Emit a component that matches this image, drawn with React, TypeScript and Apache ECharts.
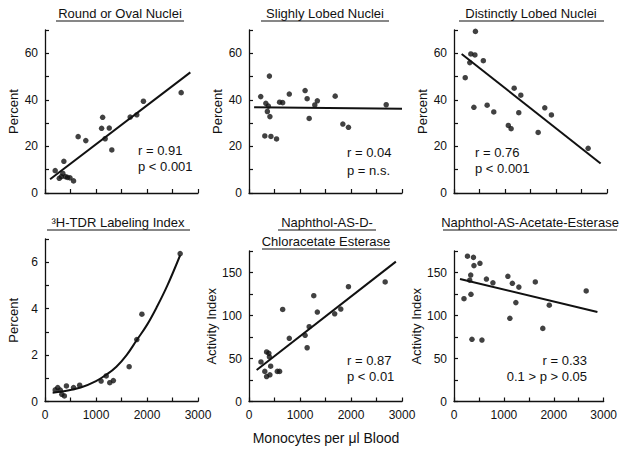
import React, { useEffect, useRef } from "react";
import * as echarts from "echarts";

// ---------- data ----------
const xTickValues = [0, 500, 1000, 1500, 2000, 2500, 3000];
const xLabelValues = [0, 1000, 2000, 3000];

const roundX = [200, 280, 320, 350, 370, 400, 440, 490, 560, 650, 800, 1110, 1130, 1180, 1260, 1310, 1670, 1800, 1930, 2670];
const roundY = [9.6, 6.3, 7.0, 8.4, 13.6, 7.0, 6.7, 6.5, 5.2, 24.2, 22.5, 27.8, 32.5, 23.3, 27.9, 18.5, 32.6, 33.6, 39.4, 43.1];
const roundFitX = [100, 2850];
const roundFitY = [5.9, 51.8];

const slightX = [230, 310, 330, 360, 380, 400, 410, 430, 540, 600, 660, 790, 1100, 1140, 1180, 1290, 1340, 1690, 1840, 1950, 2690];
const slightY = [41.4, 24.5, 38.5, 35, 37.3, 50.2, 32.8, 24.3, 23.2, 39, 38.8, 42.5, 44, 40.5, 32, 37.8, 39.6, 41.6, 29.6, 28.2, 37.9];
const slightFitX = [100, 3000];
const slightFitY = [36.8, 36.2];

const distX = [220, 310, 330, 390, 410, 420, 530, 575, 650, 780, 1065, 1120, 1180, 1270, 1310, 1650, 1780, 1910, 2630];
const distY = [49.5, 56, 59.7, 36.8, 59.3, 69.4, 71.4, 56.8, 37.7, 34.8, 29, 27.6, 45, 34.5, 42, 26, 36.6, 33.5, 19.2];
const distFitX = [150, 2875];
const distFitY = [59.7, 12.7];

const labelX = [200, 250, 300, 330, 380, 420, 560, 680, 1100, 1200, 1270, 1340, 1650, 1800, 1900, 2650];
const labelY = [0.5, 0.6, 0.49, 0.31, 0.24, 0.67, 0.6, 0.7, 0.88, 1.1, 0.81, 0.9, 1.5, 2.67, 3.76, 6.37];
const labelFitX = [150, 400, 700, 1000, 1200, 1400, 1600, 1800, 2000, 2200, 2400, 2650];
const labelFitY = [0.38, 0.45, 0.6, 0.88, 1.15, 1.5, 2.0, 2.65, 3.3, 4.1, 5.0, 6.3];

const chlorX = [235, 310, 345, 345, 390, 400, 410, 425, 555, 600, 660, 790, 1100, 1140, 1180, 1270, 1340, 1680, 1800, 1950, 2670];
const chlorY = [46, 35, 29, 57.6, 56, 52, 31, 41, 35, 35, 107, 73.5, 77, 62.5, 87, 123, 104, 102, 107.5, 133.5, 139];
const chlorFitX = [150, 2880];
const chlorFitY = [36.6, 162.6];

const acetX = [200, 270, 315, 335, 340, 360, 390, 400, 520, 560, 650, 780, 1080, 1120, 1170, 1240, 1300, 1630, 1780, 1910, 2650];
const acetY = [119.5, 169, 141, 147, 124.7, 72.3, 167.6, 158, 160.7, 71.5, 142.4, 138, 145.6, 96.7, 137.4, 115, 133, 139, 85, 112, 128.5];
const acetFitX = [120, 2875];
const acetFitY = [142.5, 104];

const titles = [
  "Round or Oval Nuclei",
  "Slighly Lobed Nuclei",
  "Distinctly Lobed Nuclei",
  "\u00B3H-TDR Labeling Index",
  "Naphthol-AS-D-",
  "Chloracetate Esterase",
  "Naphthol-AS-Acetate-Esterase",
];
const statsText = [
  ["r = 0.91", "p < 0.001"],
  ["r = 0.04", "p = n.s."],
  ["r = 0.76", "p < 0.001"],
  ["r = 0.87", "p < 0.01"],
  ["r = 0.33", "0.1 > p > 0.05"],
];
const xAxisTitle = "Monocytes per \u03BCl Blood";

// ---------- layout ----------
const FONT = "'Liberation Sans', Arial, sans-serif";
const INK = "#111";

const grids = [
  { left: 45, top: 30, width: 153, height: 163 },
  { left: 249, top: 30, width: 153, height: 163 },
  { left: 454, top: 30, width: 153, height: 163 },
  { left: 45, top: 239, width: 153, height: 162.5 },
  { left: 249, top: 251, width: 153, height: 150.5 },
  { left: 454, top: 251, width: 153, height: 150.5 },
];

const yConf = [
  { max: 70, interval: 10, labelEvery: 20, name: "Percent" },
  { max: 70, interval: 10, labelEvery: 20, name: "Percent" },
  { max: 70, interval: 10, labelEvery: 20, name: "Percent" },
  { max: 7, interval: 1, labelEvery: 2, name: "Percent" },
  { max: 175, interval: 25, labelEvery: 50, name: "Activity Index" },
  { max: 175, interval: 25, labelEvery: 50, name: "Activity Index" },
];

function zip(xs: number[], ys: number[]) {
  return xs.map((x, i) => [x, ys[i]]);
}

function buildOption() {
  const axisLine = { show: true, onZero: false, lineStyle: { color: INK, width: 1.3 } };
  const axisTick = { show: true, inside: true, length: 4, lineStyle: { color: INK, width: 1.2 } };

  const xAxis = grids.map((_, i) => ({
    type: "value",
    gridIndex: i,
    min: xTickValues[0],
    max: xTickValues[xTickValues.length - 1],
    interval: xTickValues[1] - xTickValues[0],
    axisLine,
    axisTick,
    splitLine: { show: false },
    axisLabel: {
      show: i >= 3,
      color: INK,
      fontFamily: FONT,
      fontSize: 12,
      margin: 7,
      formatter: (v: number) => (xLabelValues.includes(v) ? String(v) : ""),
    },
  }));

  const yAxis = grids.map((_, i) => ({
    type: "value",
    gridIndex: i,
    min: 0,
    max: yConf[i].max,
    interval: yConf[i].interval,
    name: yConf[i].name,
    nameLocation: "middle",
    nameGap: 25,
    nameTextStyle: { color: INK, fontFamily: FONT, fontSize: 13 },
    axisLine,
    axisTick,
    splitLine: { show: false },
    axisLabel: {
      color: INK,
      fontFamily: FONT,
      fontSize: 12,
      margin: 7,
      formatter: (v: number) =>
        Math.abs(v / yConf[i].labelEvery - Math.round(v / yConf[i].labelEvery)) < 1e-9 ? String(v) : "",
    },
  }));

  const pts = [
    [roundX, roundY],
    [slightX, slightY],
    [distX, distY],
    [labelX, labelY],
    [chlorX, chlorY],
    [acetX, acetY],
  ];
  const fits = [
    [roundFitX, roundFitY],
    [slightFitX, slightFitY],
    [distFitX, distFitY],
    [labelFitX, labelFitY],
    [chlorFitX, chlorFitY],
    [acetFitX, acetFitY],
  ];

  const series: any[] = [];
  pts.forEach(([xs, ys], i) => {
    series.push({
      type: "scatter",
      xAxisIndex: i,
      yAxisIndex: i,
      data: zip(xs, ys),
      symbol: "circle",
      symbolSize: 5.5,
      itemStyle: { color: INK },
      z: 3,
    });
  });
  fits.forEach(([xs, ys], i) => {
    series.push({
      type: "line",
      xAxisIndex: i,
      yAxisIndex: i,
      data: zip(xs, ys),
      showSymbol: false,
      smooth: i === 3 ? 0.4 : false,
      lineStyle: { color: INK, width: 2 },
      z: 2,
    });
  });

  const txt = (text: string, x: number, y: number, size: number, align = "left") => ({
    type: "text",
    x,
    y,
    style: {
      text,
      fill: INK,
      font: `${size}px ${FONT}`,
      textAlign: align,
      textVerticalAlign: "middle",
      align,
      verticalAlign: "middle",
    },
  });
  const uline = (x1: number, x2: number, y: number) => ({
    type: "line",
    shape: { x1, y1: y, x2, y2: y },
    style: { stroke: INK, lineWidth: 1.2 },
  });

  const graphic: any[] = [
    txt(titles[0], 120, 13, 13, "center"),
    uline(56, 184, 21),
    txt(titles[1], 325, 13, 13, "center"),
    uline(261, 389, 21),
    txt(titles[2], 531, 13, 13, "center"),
    uline(459, 604, 21),
    txt(titles[3], 118, 222, 13, "center"),
    uline(47, 190, 230),
    txt(titles[4], 327, 222, 13, "center"),
    uline(278, 376, 230),
    txt(titles[5], 326, 241, 13, "center"),
    uline(262, 390, 249),
    txt(titles[6], 530, 222, 13, "center"),
    uline(443, 617, 230),

    txt(statsText[0][0], 138, 150, 13),
    txt(statsText[0][1], 138, 166, 13),
    txt(statsText[1][0], 347, 152, 13),
    txt(statsText[1][1], 347, 170, 13),
    txt(statsText[2][0], 475, 152, 13),
    txt(statsText[2][1], 475, 168, 13),
    txt(statsText[3][0], 347, 360, 13),
    txt(statsText[3][1], 347, 376, 13),
    txt(statsText[4][0], 587, 360, 13, "right"),
    txt(statsText[4][1], 587, 376, 13, "right"),

    txt(xAxisTitle, 326, 438, 14, "center"),
  ];

  return {
    animation: false,
    backgroundColor: "#fff",
    grid: grids,
    xAxis,
    yAxis,
    series,
    graphic,
  };
}

export default function App() {
  const ref = useRef<HTMLDivElement>(null);
  useEffect(() => {
    if (!ref.current) return;
    const chart = echarts.init(ref.current, null, { renderer: "svg" });
    chart.setOption(buildOption() as any);
    return () => chart.dispose();
  }, []);
  return (
    <div
      ref={ref}
      style={{ position: "fixed", left: 0, top: 0, width: 620, height: 454, background: "#fff" }}
    />
  );
}
